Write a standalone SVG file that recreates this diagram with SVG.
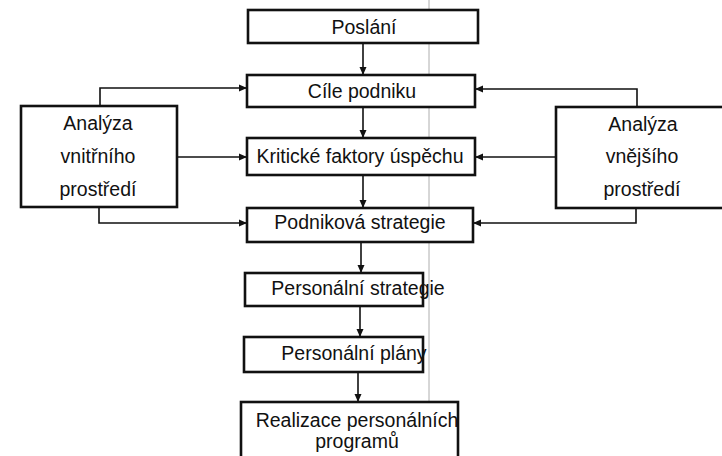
<svg xmlns="http://www.w3.org/2000/svg" width="722" height="456" viewBox="0 0 722 456">
  <defs>
    <marker id="arrow" markerUnits="userSpaceOnUse" markerWidth="9" markerHeight="8" refX="8" refY="4" orient="auto">
      <path d="M0,0.5 L8,4 L0,7.5 z" fill="#111"/>
    </marker>
    <style>
      .box { fill: #fff; stroke: #111; stroke-width: 2.6; }
      .lbl { font-family: "Liberation Sans", Arial, sans-serif; font-size: 19.5px; fill: #111; text-anchor: middle; }
      .conn { fill: none; stroke: #111; stroke-width: 1.6; marker-end: url(#arrow); }
      .fold { stroke: #9a9a9a; stroke-width: 0.8; }
    </style>
  </defs>
  <rect width="722" height="456" fill="#fff"/>

  <!-- paper fold line -->
  <line class="fold" x1="429" y1="0" x2="429" y2="456"/>

  <g id="connectors">
    <path class="conn" d="M363,43 V75"/>
    <path class="conn" d="M363,107 V138"/>
    <path class="conn" d="M363,175 V208"/>
    <path class="conn" d="M361,242 V273"/>
    <path class="conn" d="M360,306 V337"/>
    <path class="conn" d="M358,372 V402"/>
    <path class="conn" d="M100,106 V88 H247"/>
    <path class="conn" d="M177,157 H247"/>
    <path class="conn" d="M99,207 V223 H247"/>
    <path class="conn" d="M637,107 V89 H475"/>
    <path class="conn" d="M556,157 H475"/>
    <path class="conn" d="M636,208 V223 H473"/>
  </g>

  <g id="poslani">
    <rect class="box" x="248" y="10" width="230" height="33"/>
    <text class="lbl" x="364" y="34">Poslání</text>
  </g>
  <g id="cile-podniku">
    <rect class="box" x="247" y="75" width="228" height="32"/>
    <text class="lbl" x="362" y="98">Cíle podniku</text>
  </g>
  <g id="kriticke-faktory">
    <rect class="box" x="247" y="138" width="228" height="37"/>
    <text class="lbl" x="360" y="163">Kritické faktory úspěchu</text>
  </g>
  <g id="podnikova-strategie">
    <rect class="box" x="247" y="208" width="226" height="34"/>
    <text class="lbl" x="360" y="229">Podniková strategie</text>
  </g>
  <g id="personalni-strategie">
    <rect class="box" x="245" y="273" width="178" height="33"/>
    <text class="lbl" x="358" y="295">Personální strategie</text>
  </g>
  <g id="personalni-plany">
    <rect class="box" x="244" y="337" width="179" height="35"/>
    <text class="lbl" x="354" y="360">Personální plány</text>
  </g>
  <g id="realizace">
    <rect class="box" x="241" y="402" width="217" height="57"/>
    <text class="lbl" x="357" y="427">Realizace personálních</text>
    <text class="lbl" x="357" y="448">programů</text>
  </g>
  <g id="vnitrni-prostredi">
    <rect class="box" x="21" y="106" width="156" height="101"/>
    <text class="lbl" x="98" y="130">Analýza</text>
    <text class="lbl" x="98" y="163">vnitřního</text>
    <text class="lbl" x="98" y="196">prostředí</text>
  </g>
  <g id="vnejsi-prostredi">
    <rect class="box" x="556" y="107" width="172" height="101"/>
    <text class="lbl" x="643" y="131">Analýza</text>
    <text class="lbl" x="642" y="163">vnějšího</text>
    <text class="lbl" x="642" y="196">prostředí</text>
  </g>
</svg>
